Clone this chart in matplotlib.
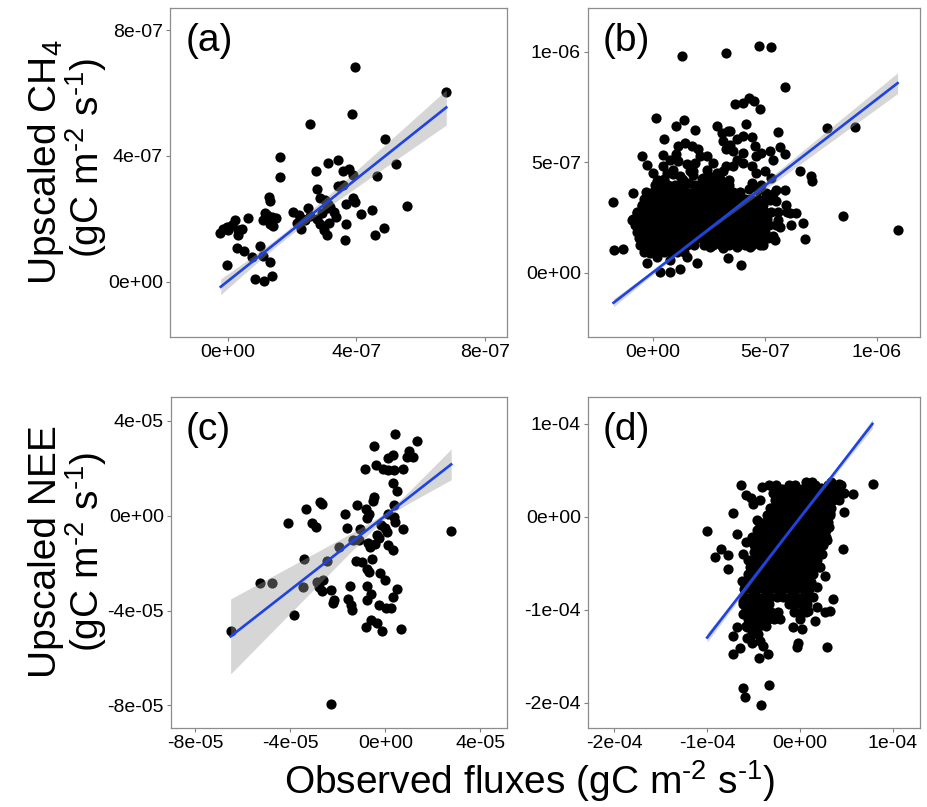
import numpy as np
import matplotlib
matplotlib.use("Agg")
import matplotlib.pyplot as plt
from matplotlib.ticker import FixedLocator, FuncFormatter

plt.rcParams['font.family'] = ['Liberation Sans', 'DejaVu Sans']
plt.rcParams['mathtext.fontset'] = 'custom'
plt.rcParams['mathtext.rm'] = 'Liberation Sans'
plt.rcParams['mathtext.it'] = 'Liberation Sans:italic'
plt.rcParams['mathtext.default'] = 'rm'

# ---- (a) CH4 monthly, units 1e-7 gC m-2 s-1
a_obs = [3.96, 6.80, 3.88, 2.55, 4.90, 5.23, 1.62, 1.63, 3.12, 3.42, 2.75, 3.60, 3.78, 3.89,
         4.64, 3.44, 3.60, 2.77, 1.28, 1.32, 2.87, 3.03, 3.13, 3.90, 3.96, 3.67, 4.49, 4.13,
         5.59, 0.62, 1.16, 1.26, 1.11, 1.37, 1.50, 1.32, 1.21, 1.42, 2.04, 2.20, 2.30, 2.15,
         2.27, 2.41, 2.56, 2.51, 2.77, 2.93, 3.08, 3.18, 3.29, 3.37, 2.87, 2.98, 3.08, 3.16,
         3.68, 3.64, 4.57, 4.86, -0.24, -0.14, -0.03, 0.12, 0.23, 0.33, 0.43, 0.33, 0.02,
         0.28, 0.49, 1.01, 0.76, 1.09, 1.30, -0.03, 0.85, 1.13, 1.37]
a_up = [6.81, 6.03, 5.32, 5.01, 4.55, 3.74, 3.97, 3.32, 3.77, 3.88, 3.51, 3.51, 3.57, 3.39,
        3.35, 3.05, 3.09, 2.96, 2.70, 2.57, 2.65, 2.59, 2.47, 2.65, 2.53, 2.46, 2.27, 2.16,
        2.41, 2.03, 2.17, 2.01, 1.96, 2.06, 2.03, 1.85, 2.12, 1.77, 2.22, 2.12, 2.01, 1.87,
        1.69, 1.96, 2.09, 2.33, 2.01, 2.17, 2.33, 2.38, 2.22, 2.06, 1.83, 1.66, 1.50, 1.87,
        1.82, 1.32, 1.48, 1.72, 1.54, 1.69, 1.75, 1.80, 1.96, 1.64, 1.69, 1.48, 1.64,
        1.06, 0.97, 1.13, 0.79, 0.82, 0.64, 0.53, 0.09, 0.02, 0.18]

# ---- (b) CH4 daily, units 1e-7
b_obs = [1.29, 3.29, 4.75, 5.30, 5.89, 0.15, 1.39, 1.04, 1.88, 0.52, 3.66, 4.04, 4.30, 4.53,
         4.78, 4.18, 3.34, 5.59, 7.77, 9.05, -0.47, -0.24, 0.47, -0.86, -1.78, -1.75, -1.31,
         8.49, 10.95, 6.78, 6.71, 6.19, 6.56, 7.11, 7.08, 5.89, 5.67, 5.30, 5.89, 5.52, 3.37,
         3.93, 0.33, 0.77, 1.22, -0.27, 0.18,
         1.14, 1.44, 1.74, 2.03, 2.11, 1.88, 1.51, 1.14, 1.04,
         3.15, 3.44, 3.74, 4.04, 4.41, 4.55, 4.85, 4.63, 5.22, 4.04, 3.59, 3.29, 3.74,
         0.18, 0.62, 0.92, 1.22, 1.66, 2.40, 2.85, 3.15, 3.59, 4.04, 4.41, 4.85, 5.07,
         0.25, 0.33, -0.12, -0.49, -0.71, -0.93, -0.64, -0.49, -0.12, 0.77, 1.51, 1.96,
         2.55, 3.15, 3.74, 4.33, 4.93, 5.37, 5.67, 6.11, 6.41, 5.96, 5.52, 5.22,
         2.40, 2.70, 2.26, 2.92, 3.29, 4.41, 4.63, 5.00, 5.37, 0.77, 0.47, 0.03, 1.81, 1.36,
         2.85, 3.07, 3.44,
         0.9, 1.8, 2.6, 3.4, 1.6, 4.3, 5.45, 5.6, 5.35, 4.7]
b_up = [9.79, 9.94, 10.27, 10.20, 8.42, 6.98, 6.89, 6.64, 6.45, 6.03, 7.62, 7.67, 7.92, 7.77,
        7.39, 6.74, 6.41, 6.38, 6.56, 6.59, 5.27, 4.86, 5.32, 3.61, 3.18, 1.03, 1.06,
        2.58, 1.94, 1.53, 2.27, 2.14, 4.59, 4.14, 4.36, 5.35, 5.68, 4.29, 3.76, 3.23, 0.65,
        0.35, 0.05, 0.05, 0.15, 0.42, 0.73,
        5.73, 5.88, 5.73, 5.58, 5.27, 4.97, 4.94, 5.05, 5.39,
        5.95, 5.80, 6.03, 6.18, 6.15, 5.73, 5.42, 5.27, 5.50, 5.42, 5.50, 5.58, 5.12,
        4.14, 4.52, 4.67, 4.36, 4.59, 4.67, 4.52, 4.59, 4.82, 4.97, 4.06, 3.98, 3.61,
        4.21, 3.68, 3.30, 3.00, 2.70, 2.39, 1.94, 1.33, 0.88, 0.58, 0.73, 0.42,
        1.18, 1.11, 1.18, 1.18, 1.26, 1.64, 2.09, 2.70, 2.70, 3.08, 3.76, 3.30,
        5.27, 4.97, 4.29, 4.14, 4.82, 4.82, 4.52, 4.59, 5.12, 5.12, 4.82, 4.52, 4.59, 4.21,
        6.64, 6.33, 6.41,
        4.45, 4.40, 4.35, 4.20, 4.05, 3.80, 1.50, 2.40, 3.55, 3.75]
# dense core of (b): rows of (upscaled, [observed...])
b_core = [
    (0.95, [-0.4, -0.1, 0.2, 0.5, 0.8, 1.1, 1.4]),
    (1.25, [-0.55, -0.25, 0.05, 0.35, 0.65, 0.95, 1.25, 1.55, 1.85, 2.3, 2.7, 3.05, 3.4, 3.75, 4.1, 4.45, 4.8]),
    (1.55, [-0.6, -0.3, 0.0, 0.3, 0.6, 0.9, 1.2, 1.5, 1.8, 2.1, 2.4, 2.7, 3.0, 3.3, 3.6, 3.9, 4.2, 4.5, 4.8, 5.15]),
    (1.85, [-0.7, -0.4, -0.1, 0.2, 0.5, 0.8, 1.1, 1.4, 1.7, 2.0, 2.3, 2.6, 2.9, 3.2, 3.5, 3.8, 4.1, 4.4, 4.7, 5.0]),
    (2.15, [-0.8, -0.5, -0.2, 0.1, 0.4, 0.7, 1.0, 1.3, 1.6, 1.9, 2.2, 2.5, 2.8, 3.1, 3.4, 3.7, 4.0, 4.3, 4.6, 4.9, 5.2, 5.5]),
    (2.45, [-0.9, -0.6, -0.3, 0.0, 0.3, 0.6, 0.9, 1.2, 1.5, 1.8, 2.1, 2.4, 2.7, 3.0, 3.3, 3.6, 3.9, 4.2, 4.5, 4.8, 5.1]),
    (2.75, [-0.7, -0.4, -0.1, 0.2, 0.5, 0.8, 1.1, 1.4, 1.7, 2.0, 2.3, 2.6, 2.9, 3.2, 3.5, 3.8, 4.1, 4.4, 4.7, 5.0, 5.3, 5.6, 6.0]),
    (3.05, [-0.5, -0.2, 0.1, 0.4, 0.7, 1.0, 1.3, 1.6, 1.9, 2.2, 2.5, 2.8, 3.1, 3.4, 3.7, 4.0, 4.3, 4.6, 4.9]),
    (3.35, [-0.4, -0.1, 0.2, 0.5, 0.8, 1.1, 1.4, 1.7, 2.0, 2.3, 2.6, 2.9, 3.2, 3.5, 3.8, 4.1, 4.4, 4.7, 5.0]),
    (3.65, [-0.3, 0.0, 0.3, 0.6, 0.9, 1.2, 1.5, 1.8, 2.1, 2.4, 2.7, 3.0, 3.3, 3.6, 3.9]),
    (3.95, [0.1, 0.4, 0.7, 1.0, 1.3, 1.9, 2.2, 2.5, 2.8, 3.1, 3.4]),
    (4.25, [0.5, 1.3, 2.2, 3.0]),
]

# ---- (c) NEE monthly, units 1e-5
c_obs = [0.42, 1.32, -0.48, 1.01, 1.15, 0.93, 0.31, 0.13, -0.41, -0.86, -0.08, 0.13, 0.37, 0.73,
         0.31, 0.48, -0.48, -0.50, 0.38, -1.21, -0.81, -0.67, -0.76, -1.70, 0.13, 0.37, 0.42,
         0.73, 2.77, -2.68, -2.75, -3.34, -3.10, -2.93, -4.08, -1.63, -1.07, -0.18, -0.01, 0.08,
         -0.36, -0.25, -0.43, -0.72, -0.65, -1.09, -1.35, -1.94, 0.13, 0.31, -3.42, -2.47, -1.23,
         -0.99, -0.57, -0.79, -0.67, -0.22, -0.01, -5.28, -4.79, -3.45, -2.89, -2.61, -2.78,
         -2.68, -2.29, -1.49, -0.79, -0.59, 0.48, 0.34, -2.15, -2.19, -1.56, -1.45, -1.42, -0.76,
         -0.28, 0.03, 0.23, -3.83, -6.51, -0.62, -0.34, -0.81, -0.14, 0.65, -2.29]
c_up = [3.43, 3.15, 2.94, 2.72, 2.46, 2.49, 2.55, 2.41, 2.13, 1.96, 1.95, 1.92, 1.92, 1.95,
        1.39, 1.05, 0.77, 0.63, 0.44, 0.44, 0.30, 0.09, -0.12, 0.06, 0.09, -0.05, -0.26,
        -0.57, -0.64, 0.51, 0.58, 0.26, -0.33, -0.47, -0.30, -0.50, -0.58, -0.40, -0.54, -0.68,
        -0.82, -0.96, -1.18, -1.15, -1.32, -1.04, -1.01, -1.32, -1.25, -1.43, -1.81, -1.92, -1.91,
        -1.95, -1.81, -2.23, -2.37, -2.41, -2.72, -2.84, -2.82, -3.01, -2.80, -2.73, -3.01,
        -3.17, -3.15, -2.95, -2.96, -3.29, -3.08, -3.43, -3.54, -3.67, -3.53, -3.78, -3.99, -3.57,
        -3.78, -3.89, -3.88, -4.19, -4.88, -4.39, -4.51, -4.71, -4.87, -4.78, -7.93]

# ---- (d) NEE daily, units 1e-5
d_obs = [-10.07, -9.17, -8.53, -7.81, -7.73, -7.19, -6.83, -6.40, -5.86, -5.32, -4.14, -5.04,
         -3.24, -5.86, -6.12, -6.29, 4.68, 4.75, 5.68, 7.84, 4.24, 3.60, 2.70, 2.88, 3.24, 2.70,
         -0.36, -0.18, -6.83, -7.19, -7.19, -6.47, -5.22, -4.42, -3.49, -6.19, -5.94, -4.21,
         -3.31, 1.62, 1.80, -0.72, 0.18, -3.96, -4.30, -5.76, -5.20,
         3.60, 3.96, 3.24, 3.17, 2.88, 2.34, 2.16, 1.80, 1.44, 0.90,
         -4.32, -4.68, -5.22, -5.58, -5.94, -6.19, -6.12, -5.76,
         -1.9, 0.2, 2.3, 0.6, 1.3, 3.3]
d_up = [-1.55, -4.33, -3.50, -4.08, -5.60, 0.36, -1.81, 3.39, 2.35, 2.06, 3.25, 1.37,
        0.97, -2.71, -3.97, -6.86, -3.50, 0.47, 2.42, 3.50, 3.50, -8.84, -6.32, -13.97, -10.11,
        -10.29, -13.97, -13.54, -11.91, -12.82, -14.80, -14.08, -13.54, -15.23, -14.80, -18.41,
        -19.42, -20.29, -18.16, -11.19, -9.75, -11.91, -12.09, -13.90, -13.40, -13.00, -12.60,
        2.89, 1.99, 0.36, -1.08, -2.53, -3.97, -5.42, -7.58, -8.66, -10.11,
        1.81, -0.36, -2.17, -4.69, -7.58, -9.03, -10.47, -11.91,
        3.0, 3.0, 3.1, 3.75, 3.7, 3.8]
d_core = [
    (3.4, [-3.3, -2.6, -1.2, -0.5, 0.9, 1.6, 3.0, 3.7, 4.4]),
    (2.6, [-2.9, -2.2, -1.5, -0.8, -0.1, 0.6, 1.3, 2.0, 2.7, 3.4, 4.1, 4.7]),
    (1.8, [-2.7, -2.0, -1.3, -0.6, 0.1, 0.8, 1.5, 2.2, 2.9, 3.6, 4.2]),
    (1.0, [-3.0, -2.3, -1.6, -0.9, -0.2, 0.5, 1.2, 1.9, 2.6, 3.3]),
    (0.2, [-3.6, -2.9, -2.2, -1.5, -0.8, -0.1, 0.6, 1.3, 2.0, 2.7, 3.2]),
    (-0.6, [-4.4, -3.7, -3.0, -2.3, -1.6, -0.9, -0.2, 0.5, 1.2, 1.9, 2.6, 3.0]),
    (-1.4, [-4.6, -3.9, -3.2, -2.5, -1.8, -1.1, -0.4, 0.3, 1.0, 1.7, 2.4, 2.8]),
    (-2.2, [-4.8, -4.1, -3.4, -2.7, -2.0, -1.3, -0.6, 0.1, 0.8, 1.5, 2.2, 2.8]),
    (-3.0, [-5.0, -4.3, -3.6, -2.9, -2.2, -1.5, -0.8, -0.1, 0.6, 1.3, 2.0, 2.5]),
    (-3.8, [-5.0, -4.3, -3.6, -2.9, -2.2, -1.5, -0.8, -0.1, 0.6, 1.3, 2.0]),
    (-4.6, [-5.2, -4.5, -3.8, -3.1, -2.4, -1.7, -1.0, -0.3, 0.4, 1.1, 1.8]),
    (-5.4, [-5.4, -4.7, -4.0, -3.3, -2.6, -1.9, -1.2, -0.5, 0.2, 0.9, 1.6, 2.0]),
    (-6.2, [-5.6, -4.9, -4.2, -3.5, -2.8, -2.1, -1.4, -0.7, 0.0, 0.7, 1.4]),
    (-7.0, [-5.8, -5.1, -4.4, -3.7, -3.0, -2.3, -1.6, -0.9, -0.2, 0.5, 1.2]),
    (-7.8, [-6.0, -5.3, -4.6, -3.9, -3.2, -2.5, -1.8, -1.1, -0.4, 0.3, 1.0]),
    (-8.6, [-6.0, -5.3, -4.6, -3.9, -3.2, -2.5, -1.8, -1.1, -0.4, 0.3, 0.8]),
    (-9.4, [-6.1, -5.4, -4.7, -4.0, -3.3, -1.2, -0.5, 0.2, 0.8]),
    (-10.2, [-5.9, -5.2, -4.5, -3.8, -3.1, -2.4, -0.6, 0.1, 0.6]),
    (-11.0, [-5.6, -4.9, -4.2, -3.5, -2.8, -2.1, 0.0]),
    (-11.8, [-5.8, -5.1, -4.4, -3.7]),
    (-12.6, [-5.2, -4.5]),
]

# lm fits: (x start, y start, x end, y end), band half-width (left, min, right)
a_fit, a_band = (-0.22, -0.16, 6.80, 5.54), (0.25, 0.12, 0.56)
b_fit, b_band = (-1.75, -1.36, 10.93, 8.58), (0.18, 0.06, 0.47)
c_fit, c_band = (-6.51, -5.09, 2.77, 2.16), (1.58, 0.13, 0.65)
d_fit, d_band = (-10.0, -13.0, 7.8, 10.0), (0.5, 0.15, 0.5)


def with_core(obs, up, core):
    xs, ys = list(obs), list(up)
    for y, row in core:
        xs += row
        ys += [y] * len(row)
    return np.array(xs), np.array(ys)


W, H = 928, 807
fig = plt.figure(figsize=(W / 100, H / 100), dpi=100)


def box(l, t, r, b):
    return [l / W, 1 - b / H, (r - l) / W, (b - t) / H]


def panel(rect, obs, up, scale, lim, ticks, fit, band, tag):
    ax = fig.add_axes(rect)
    ax.scatter(np.asarray(obs) * scale, np.asarray(up) * scale, s=54, c='black',
               linewidths=0, zorder=2)
    x0, y0, x1, y1 = fit
    xs = np.linspace(x0, x1, 200)
    ys = y0 + (y1 - y0) * (xs - x0) / (x1 - x0)
    hl, hm, hr = band
    r = np.sqrt((hl ** 2 - hm ** 2) / (hr ** 2 - hm ** 2))
    xc = (x0 + r * x1) / (1 + r)
    k = (hr ** 2 - hm ** 2) / (x1 - xc) ** 2
    hw = np.sqrt(hm ** 2 + k * (xs - xc) ** 2)
    ax.fill_between(xs * scale, (ys - hw) * scale, (ys + hw) * scale, color='0.6',
                    alpha=0.4, lw=0, zorder=3)
    ax.plot(xs * scale, ys * scale, color='#1d43e6', lw=1.9, zorder=4)

    ax.set_xlim(lim[0] * scale, lim[1] * scale)
    ax.set_ylim(lim[2] * scale, lim[3] * scale)
    tk = [t * scale for t in ticks]
    ax.xaxis.set_major_locator(FixedLocator(tk))
    ax.yaxis.set_major_locator(FixedLocator(tk))
    fmt = FuncFormatter(lambda v, _: f"{v:.0e}")
    ax.xaxis.set_major_formatter(fmt)
    ax.yaxis.set_major_formatter(fmt)
    ax.tick_params(length=2.7, width=0.8, color='#7f7f7f', labelsize=14,
                   labelcolor='black', pad=2.5)
    for s in ax.spines.values():
        s.set_color('#8c8c8c')
        s.set_linewidth(0.9)
    ax.text(0.045, 0.90, tag, transform=ax.transAxes, fontsize=28, va='center', ha='left')
    return ax


panel(box(170, 8, 507, 337), a_obs, a_up, 1e-7, (-1.80, 8.69, -1.756, 8.70), [0, 4, 8],
      a_fit, a_band, '(a)')
bx, by = with_core(b_obs, b_up, b_core)
panel(box(588, 8, 920, 337), bx, by, 1e-7, (-2.89, 11.93, -2.91, 11.98), [0, 5, 10],
      b_fit, b_band, '(b)')
panel(box(171, 397, 507, 728), c_obs, c_up, 1e-5, (-9.02, 5.12, -8.95, 5.0), [-8, -4, 0, 4],
      c_fit, c_band, '(c)')
dx, dy = with_core(d_obs, d_up, d_core)
panel(box(588, 397, 920, 728), dx, dy, 1e-5, (-22.84, 12.93, -22.74, 12.9), [-20, -10, 0, 10],
      d_fit, d_band, '(d)')

unit = r'(gC m$^{\text{-}2}$ s$^{\text{-}1}$)'
fig.text(46 / W, 1 - 162 / H, r'Upscaled CH$_4$', rotation=90, fontsize=28, ha='center', va='center')
fig.text(86 / W, 1 - 158 / H, unit, rotation=90, fontsize=28, ha='center', va='center')
fig.text(46 / W, 1 - 552 / H, 'Upscaled NEE', rotation=90, fontsize=28, ha='center', va='center')
fig.text(86 / W, 1 - 552 / H, unit, rotation=90, fontsize=28, ha='center', va='center')
fig.text(530 / W, 1 - 781 / H, 'Observed fluxes ' + unit, fontsize=28, ha='center', va='center')

fig.savefig('out.png', dpi=100)
